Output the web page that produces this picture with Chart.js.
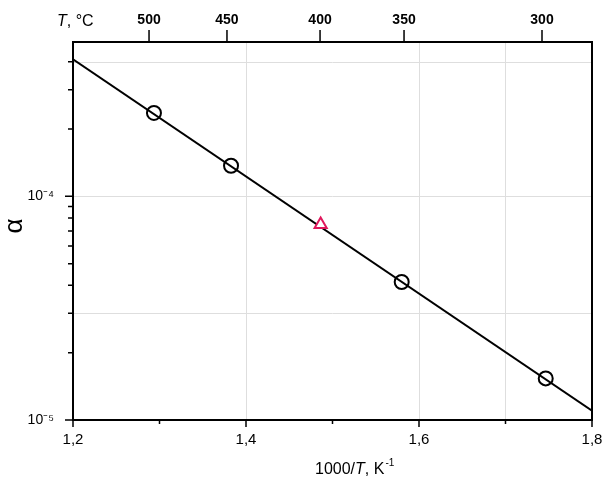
<!DOCTYPE html>
<html>
<head>
<meta charset="utf-8">
<script src="https://cdn.jsdelivr.net/npm/chart.js@4.4.0/dist/chart.umd.min.js"></script>
<style>
  html, body { margin: 0; padding: 0; background: #fff; }
  #wrap { width: 604px; height: 478px; }
</style>
</head>
<body>
<div id="wrap"><canvas id="arrhenius"></canvas></div>
<script>
// measured points: 1000/T (K^-1) and alpha
const invT = [1.2936, 1.3827, 1.4863, 1.5800, 1.7465];
const alpha = [2.36e-4, 1.37e-4, 7.48e-5, 4.14e-5, 1.535e-5];
const markers = ['circle', 'circle', 'triangle', 'circle', 'circle'];

// fitted straight line, ends of the range
const fitInvT = [1.2, 1.8];
const fitAlpha = [4.1e-4, 1.1e-5];

// bottom axis
const xMajor = [1.2, 1.4, 1.6, 1.8];
const xLabels = ['1,2', '1,4', '1,6', '1,8'];
const xMinor = [1.3, 1.5, 1.7];

// left axis (log)
const yMajor = [1e-5, 1e-4];
const yLabels = ['10⁻⁵', '10⁻⁴'];
const yMinor = [2e-5, 3e-5, 4e-5, 5e-5, 6e-5, 7e-5, 8e-5, 9e-5, 2e-4, 3e-4, 4e-4];

// top axis: temperature in °C at its 1000/T position
const topTickPos = [1.2879, 1.3780, 1.4856, 1.5827, 1.7422];
const topTickLabels = ['500', '450', '400', '350', '300'];

// faint grid inside the frame
const gridX = [1.4, 1.6, 1.7];
const gridY = [3e-5, 1e-4, 4e-4];

const FONT = "'Liberation Sans', Arial, sans-serif";

// grid, frame, tick marks and the axis titles with italic T
const frameAndTicks = {
    id: 'frameAndTicks',
    beforeDatasetsDraw(chart) {
        const { ctx, chartArea: a, scales: { x, y } } = chart;
        ctx.save();
        ctx.strokeStyle = '#dedede';
        ctx.lineWidth = 1;
        ctx.beginPath();
        gridX.forEach(v => {
            const px = Math.round(x.getPixelForValue(v)) + 0.5;
            ctx.moveTo(px, a.top);
            ctx.lineTo(px, a.bottom);
        });
        gridY.forEach(v => {
            const py = Math.round(y.getPixelForValue(v)) + 0.5;
            ctx.moveTo(a.left, py);
            ctx.lineTo(a.right, py);
        });
        ctx.stroke();
        ctx.restore();
    },
    afterDatasetsDraw(chart) {
        const { ctx, chartArea: a, scales: { x, x2, y } } = chart;
        ctx.save();
        ctx.strokeStyle = '#000';
        ctx.lineWidth = 2;
        ctx.strokeRect(a.left, a.top, a.right - a.left, a.bottom - a.top);

        ctx.lineWidth = 1.5;
        ctx.beginPath();
        xMajor.forEach(v => {
            const px = x.getPixelForValue(v);
            ctx.moveTo(px, a.bottom);
            ctx.lineTo(px, a.bottom + 7);
        });
        xMinor.forEach(v => {
            const px = x.getPixelForValue(v);
            ctx.moveTo(px, a.bottom);
            ctx.lineTo(px, a.bottom + 4);
        });
        yMajor.forEach(v => {
            const py = y.getPixelForValue(v);
            ctx.moveTo(a.left - 8, py);
            ctx.lineTo(a.left, py);
        });
        yMinor.forEach(v => {
            const py = y.getPixelForValue(v);
            ctx.moveTo(a.left - 5, py);
            ctx.lineTo(a.left, py);
        });
        topTickPos.forEach(v => {
            const px = x2.getPixelForValue(v);
            ctx.moveTo(px, a.top - 12);
            ctx.lineTo(px, a.top);
        });
        ctx.stroke();
        ctx.restore();
    },
    afterDraw(chart) {
        const { ctx } = chart;
        ctx.save();
        ctx.fillStyle = '#000';
        ctx.textBaseline = 'alphabetic';
        ctx.textAlign = 'left';

        // bottom title: 1000/T, K^-1
        let cx = 315;
        const by = 474;
        const parts = [['1000/', 'normal'], ['T', 'italic'], [', K', 'normal']];
        parts.forEach(([t, st]) => {
            ctx.font = st + ' 16px ' + FONT;
            ctx.fillText(t, cx, by);
            cx += ctx.measureText(t).width;
        });
        ctx.font = '10px ' + FONT;
        ctx.fillText('-1', cx + 1, by - 8);

        // top title: T, °C
        cx = 57;
        ctx.font = 'italic 16px ' + FONT;
        ctx.fillText('T', cx, 26);
        cx += ctx.measureText('T').width;
        ctx.font = '16px ' + FONT;
        ctx.fillText(', °C', cx, 26);

        // y title
        ctx.translate(15, 226);
        ctx.rotate(-Math.PI / 2);
        ctx.textAlign = 'center';
        ctx.textBaseline = 'middle';
        ctx.font = '26px ' + FONT;
        ctx.fillText('α', 0, 0);
        ctx.restore();
    }
};

// fixed axis thickness, no extra room for overhanging end labels
function fixSize(prop, size) {
    return s => {
        s[prop] = size;
        s.paddingLeft = 0;
        s.paddingRight = 0;
        s.paddingTop = 0;
        s.paddingBottom = 0;
    };
}

new Chart(document.getElementById('arrhenius'), {
    type: 'scatter',
    data: {
        datasets: [
            {
                type: 'line',
                data: fitInvT.map((v, i) => ({ x: v, y: fitAlpha[i] })),
                borderColor: '#000',
                borderWidth: 2,
                pointRadius: 0,
                fill: false,
                order: 2
            },
            {
                data: invT.map((v, i) => ({ x: v, y: alpha[i] })),
                pointStyle: c => markers[c.dataIndex],
                pointRadius: 7,
                borderWidth: 2,
                borderColor: c => markers[c.dataIndex] === 'triangle' ? '#e0185c' : '#000',
                backgroundColor: c => markers[c.dataIndex] === 'triangle' ? '#fff' : 'rgba(0,0,0,0)',
                order: 1
            }
        ]
    },
    options: {
        responsive: true,
        maintainAspectRatio: false,
        animation: false,
        layout: { padding: { top: 0, left: 0, bottom: 0, right: 12 } },
        plugins: {
            legend: { display: false },
            tooltip: { enabled: false }
        },
        scales: {
            x: {
                type: 'linear',
                position: 'bottom',
                min: 1.2,
                max: 1.8,
                grid: { display: false, drawTicks: false },
                border: { display: false },
                afterBuildTicks: s => { s.ticks = xMajor.map(v => ({ value: v })); },
                afterFit: fixSize('height', 58),
                ticks: {
                    autoSkip: false,
                    maxRotation: 0,
                    padding: 11,
                    color: '#000',
                    font: { size: 15, family: FONT },
                    callback: (v, i) => xLabels[i]
                }
            },
            x2: {
                type: 'linear',
                position: 'top',
                min: 1.2,
                max: 1.8,
                grid: { display: false, drawTicks: false },
                border: { display: false },
                afterBuildTicks: s => { s.ticks = topTickPos.map(v => ({ value: v })); },
                afterFit: fixSize('height', 42),
                ticks: {
                    autoSkip: false,
                    maxRotation: 0,
                    padding: 13,
                    color: '#000',
                    font: { size: 14, weight: 'bold', family: FONT },
                    callback: (v, i) => topTickLabels[i]
                }
            },
            y: {
                type: 'logarithmic',
                position: 'left',
                min: 1e-5,
                max: 4.9e-4,
                grid: { display: false, drawTicks: false },
                border: { display: false },
                afterBuildTicks: s => { s.ticks = yMajor.map(v => ({ value: v })); },
                afterFit: fixSize('width', 73),
                ticks: {
                    autoSkip: false,
                    padding: 19,
                    color: '#000',
                    font: { size: 14, family: FONT },
                    callback: (v, i) => yLabels[i]
                }
            }
        }
    },
    plugins: [frameAndTicks]
});
</script>
</body>
</html>
